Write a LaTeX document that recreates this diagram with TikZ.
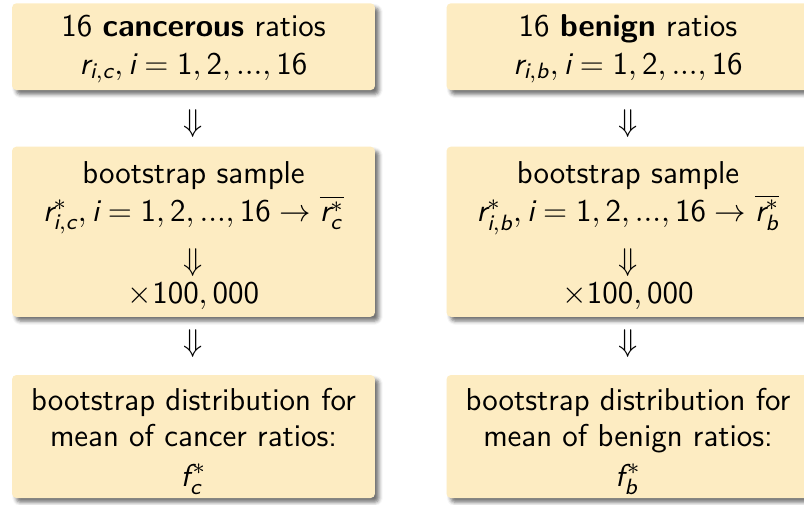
\documentclass[tikz,border=0pt]{standalone}
\usetikzlibrary{shadows.blur}
\renewcommand{\familydefault}{\sfdefault}
\SetSymbolFont{operators}{normal}{TU}{lmss}{m}{n}
\DeclareMathAlphabet{\sfi}{TU}{lmss}{m}{sl}
\definecolor{blockfill}{RGB}{253,236,194}
\tikzset{
  blk/.style={fill=blockfill, rounded corners=1.5pt, minimum width=126.3pt, inner sep=0pt,
    blur shadow={shadow xshift=1.4pt, shadow yshift=-1.5pt, shadow blur radius=1.3pt, shadow opacity=55}},
  txt/.style={font=\fontsize{11}{13.6}\selectfont, inner sep=0pt, anchor=base},
  par/.style={font=\fontsize{11}{12.4}\selectfont, inner sep=0pt, anchor=north, align=center},
  arr/.style={font=\fontsize{11}{13.6}\selectfont, inner sep=0pt},
}
\begin{document}
\begin{tikzpicture}[x=0.348pt,y=-0.348pt]
\useasboundingbox (0,0) rectangle (804,504);
% ---------------- left column ----------------
\node[blk, minimum height=30.2pt] (c1) at (193.5,46.7) {};
\node[txt] (c1a) at (193.5,37) {16 \textbf{cancerous} ratios};
\node[txt] (c1b) at (193.5,74) {$\sfi{r}_{\sfi{i,c}}, \sfi{i}=1,2,...,16$};
\node[arr] (ca1) at (193.5,123.3) {$\Downarrow$};
\node[blk, minimum height=59.2pt] (c2) at (193.5,231.7) {};
\node[txt] (c2a) at (193.5,183.3) {bootstrap sample};
\node[txt] (c2b) at (193.5,221.7) {$\sfi{r}^*_{\sfi{i,c}}, \sfi{i}=1,2,...,16\rightarrow\overline{\sfi{r}^*_{\sfi{c}}}$};
\node[arr] (c2c) at (193.5,263) {$\Downarrow$};
\node[txt] (c2d) at (193.5,303) {$\times100,000$};
\node[arr] (ca2) at (193.5,344) {$\Downarrow$};
\node[blk, minimum height=42.8pt] (c3) at (193.5,436.5) {};
\node[par] (c3t) at (193.5,388) {bootstrap distribution for\\ mean of cancer ratios:\\[1.5pt] $\sfi{f}^{\kern0.9pt *}_{\sfi{c}}$};
% ---------------- right column ----------------
\node[blk, minimum height=30.2pt] (b1) at (628,46.7) {};
\node[txt] (b1a) at (628,37) {16 \textbf{benign} ratios};
\node[txt] (b1b) at (628,74) {$\sfi{r}_{\sfi{i,b}}, \sfi{i}=1,2,...,16$};
\node[arr] (ba1) at (628,123.3) {$\Downarrow$};
\node[blk, minimum height=59.2pt] (b2) at (628,231.7) {};
\node[txt] (b2a) at (628,183.3) {bootstrap sample};
\node[txt] (b2b) at (628,221.7) {$\sfi{r}^*_{\sfi{i,b}}, \sfi{i}=1,2,...,16\rightarrow\overline{\sfi{r}^*_{\sfi{b}}}$};
\node[arr] (b2c) at (628,263) {$\Downarrow$};
\node[txt] (b2d) at (628,303) {$\times100,000$};
\node[arr] (ba2) at (628,344) {$\Downarrow$};
\node[blk, minimum height=42.8pt] (b3) at (628,436.5) {};
\node[par] (b3t) at (628,388) {bootstrap distribution for\\ mean of benign ratios:\\[1.5pt] $\sfi{f}^{\kern0.9pt *}_{\sfi{b}}$};
\end{tikzpicture}
\end{document}
